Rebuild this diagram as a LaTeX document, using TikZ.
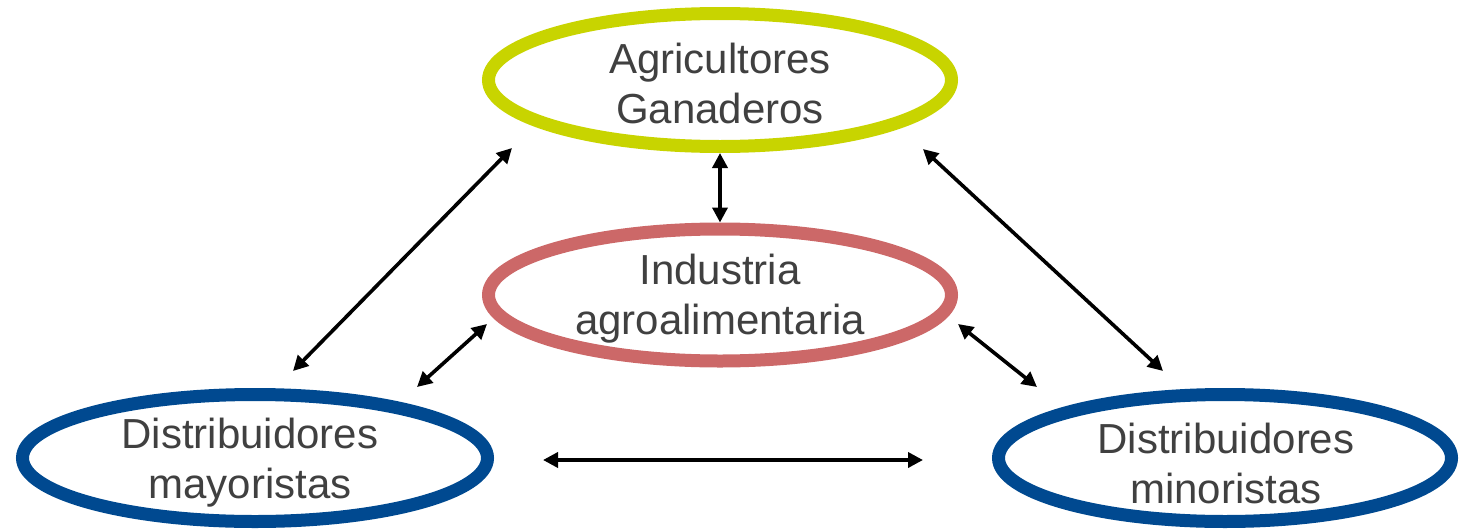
\documentclass[tikz,border=0pt]{standalone}
\usepackage{fontspec}
\setmainfont{Liberation Sans}
\usetikzlibrary{shapes.geometric,arrows.meta}
\definecolor{cgreen}{RGB}{200,212,0}
\definecolor{cred}{RGB}{204,104,104}
\definecolor{cblue}{RGB}{0,73,144}
\definecolor{ctext}{RGB}{64,64,64}
\tikzset{
  oval/.style={ellipse, draw, line width=13pt, inner sep=0pt},
  lbl/.style={text=ctext, align=center, inner sep=0pt, font=\fontsize{42}{50}\selectfont},
  link/.style={line width=3.6pt, {Triangle[length=15pt,width=15pt]}-{Triangle[length=15pt,width=15pt]}}
}
\begin{document}
\begin{tikzpicture}[x=1pt,y=-1pt]
\useasboundingbox (0,0) rectangle (1461,530);
\node[oval, draw=cgreen, minimum width=463pt, minimum height=133pt] (agr) at (720,80) {};
\node[oval, draw=cred, minimum width=463pt, minimum height=132pt] (ind) at (720,295) {};
\node[oval, draw=cblue, minimum width=465pt, minimum height=127pt] (dmay) at (255,458) {};
\node[oval, draw=cblue, minimum width=453pt, minimum height=127pt] (dmin) at (1225,458) {};
\node[lbl] (agrt) at (720,83) {Agricultores\\Ganaderos};
\node[lbl] (indt) at (720,299) {Industria\\agroalimentaria};
\node[lbl] (dmayt) at (250,463) {Distribuidores\\mayoristas};
\node[lbl] (dmint) at (1226,463) {Distribuidores\\minoristas};
\coordinate (l1) at (293,371);
\coordinate (l2) at (512,148);
\coordinate (s1) at (417,387);
\coordinate (s2) at (487,324);
\coordinate (r1) at (923,149);
\coordinate (r2) at (1163,371);
\coordinate (t1) at (958,324);
\coordinate (t2) at (1037,387);
\coordinate (h1) at (543,460);
\coordinate (h2) at (923,460);
\draw[link] (agr) -- (ind);
\draw[link] (l1) -- (l2);
\draw[link] (s1) -- (s2);
\draw[link] (r1) -- (r2);
\draw[link] (t1) -- (t2);
\draw[link] (h1) -- (h2);
\end{tikzpicture}
\end{document}
